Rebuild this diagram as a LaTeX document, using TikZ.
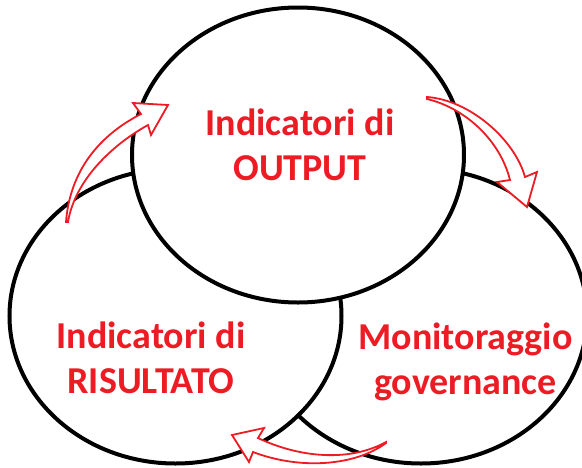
\documentclass[tikz,border=0pt]{standalone}
\usepackage{fontspec}
\setmainfont{Carlito}
\usetikzlibrary{shapes.geometric}
\definecolor{redtxt}{RGB}{237,28,36}
\tikzset{
  ring/.style = {ellipse, draw, fill=white, line width=4pt,
                 minimum width=332pt, minimum height=295pt,
                 inner sep=0pt},
  lbl/.style = {text=redtxt, align=center, inner sep=0pt,
                font=\fontsize{38}{45}\selectfont\bfseries},
  bigarrow/.style = {draw=redtxt, fill=white, line width=1.8pt,
                     line join=miter}
}

\begin{document}
\begin{tikzpicture}[x=1pt, y=-1pt]
	\useasboundingbox (0,0) rectangle (582,467);
	
	% Rings (back to front)
	\node[ring] (mon) at (421,316) {};
	\node[ring] (ris) at (175.5,316) {};
	\node[ring] (out) at (298,155) {};
	
	% Labels
	\node[lbl] (outtxt) at (300,144.5) {Indicatori di\\OUTPUT};
	\node[lbl] (ristxt) at (151,357.5) {Indicatori di\\RISULTATO};
	\node[lbl] (montxt) at (465.5,362) {Monitoraggio\\governance};
	
	% Arrows
	\draw[bigarrow] (66,222) .. controls (70,170) and (100,135) .. (141,114)
		-- (133,103) -- (168,105) -- (151,135) -- (148,125)
		.. controls (112,145) and (75,180) .. (68,222) -- cycle; % up
	\draw[bigarrow] (427,97) .. controls (470,100) and (515,140) .. (525,177)
		-- (537,172) -- (527,207) -- (497,182) -- (510,180)
		.. controls (500,140) and (465,108) .. (427,99) -- cycle; % right
	\draw[bigarrow] (386,442) .. controls (350,462) and (300,458) .. (258,438)
		-- (264,428) -- (232,435) -- (249,462) -- (253,452)
		.. controls (300,470) and (355,466) .. (386,443) -- cycle; % back
	
\end{tikzpicture}
\end{document}
